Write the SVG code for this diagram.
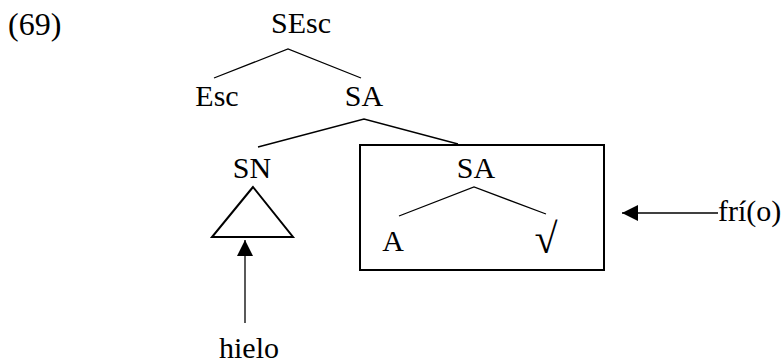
<svg xmlns="http://www.w3.org/2000/svg" width="783" height="364" viewBox="0 0 783 364">
<defs>
<style>
text{font-family:"Liberation Serif","Times New Roman",serif;font-size:30px;fill:#000}
.e{stroke:#000;stroke-width:1.3;fill:none}
.b{stroke:#000;stroke-width:2;fill:none}
</style>
<marker id="ah" markerWidth="16" markerHeight="16" refX="16" refY="8" orient="auto" markerUnits="userSpaceOnUse">
<path d="M0,0 L16,8 L0,16 Z" fill="#000"/>
</marker>
</defs>
<rect width="783" height="364" fill="#fff"/>
<text x="8" y="35" style="font-size:32px">(69)</text>
<g id="n-sesc"><text x="301" y="33" text-anchor="middle">SEsc</text></g>
<g id="n-esc"><text x="217" y="106" text-anchor="middle">Esc</text></g>
<g id="n-sa1"><text x="364" y="106" text-anchor="middle">SA</text></g>
<g id="n-sn"><text x="252" y="178" text-anchor="middle">SN</text>
<polygon class="b" points="253,187 212,237 293,237"/></g>
<g id="n-box"><rect class="b" x="360" y="145" width="244" height="125"/></g>
<g id="n-sa2"><text x="476" y="178" text-anchor="middle">SA</text></g>
<g id="n-a"><text x="393" y="251" text-anchor="middle">A</text></g>
<g id="n-root"><text x="546" y="253" text-anchor="middle" style="font-size:42px">√</text></g>
<g id="n-hielo"><text x="249" y="358" text-anchor="middle">hielo</text></g>
<g id="n-frio"><text x="718" y="221">frí(o)</text></g>
<g id="connectors">
<polyline class="e" points="214,78 288,49 361,78"/>
<polyline class="e" points="258,147 364,119 458,144"/>
<polyline class="e" points="399,216 474,187 546,214"/>
<line class="e" x1="245" y1="323" x2="245" y2="240" marker-end="url(#ah)"/>
<line class="e" x1="718" y1="213" x2="622" y2="213" marker-end="url(#ah)"/>
</g>
</svg>
